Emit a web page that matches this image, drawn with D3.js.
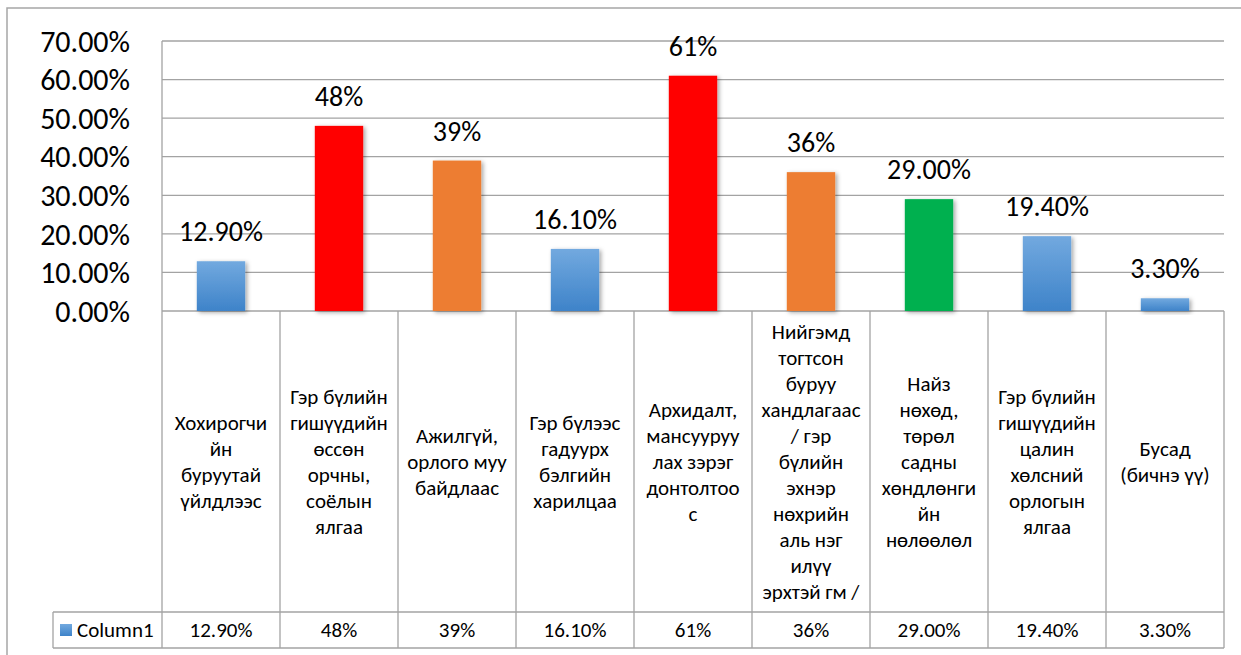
<!DOCTYPE html>
<html>
<head>
<meta charset="utf-8">
<script src="https://cdn.jsdelivr.net/npm/d3@7"></script>
<style>
  html, body { margin: 0; padding: 0; background: #fff; }
  svg { display: block; }
  text { font-family: "Carlito", "Lato", "Open Sans", sans-serif; fill: #000; }
</style>
</head>
<body>
<svg id="chart" width="1241" height="655"></svg>
<script>
// ---- data ----
const categories = [
  "Хохирогчийн буруутай үйлдлээс",
  "Гэр бүлийн гишүүдийн өссөн орчны, соёлын ялгаа",
  "Ажилгүй, орлого муу байдлаас",
  "Гэр бүлээс гадуурх бэлгийн харилцаа",
  "Архидалт, мансууруулах зэрэг донтолтоос",
  "Нийгэмд тогтсон буруу хандлагаас / гэр бүлийн эхнэр нөхрийн аль нэг илүү эрхтэй гм /",
  "Найз нөхөд, төрөл садны хөндлөнгийн нөлөөлөл",
  "Гэр бүлийн гишүүдийн цалин хөлсний орлогын ялгаа",
  "Бусад (бичнэ үү)"
];
const categoryLines = [
  ["Хохирогчи", "йн", "буруутай", "үйлдлээс"],
  ["Гэр бүлийн", "гишүүдийн", "өссөн", "орчны,", "соёлын", "ялгаа"],
  ["Ажилгүй,", "орлого муу", "байдлаас"],
  ["Гэр бүлээс", "гадуурх", "бэлгийн", "харилцаа"],
  ["Архидалт,", "мансууруу", "лах зэрэг", "донтолтоо", "с"],
  ["Нийгэмд", "тогтсон", "буруу", "хандлагаас", "/ гэр", "бүлийн", "эхнэр", "нөхрийн", "аль нэг", "илүү", "эрхтэй гм /"],
  ["Найз", "нөхөд,", "төрөл", "садны", "хөндлөнги", "йн", "нөлөөлөл"],
  ["Гэр бүлийн", "гишүүдийн", "цалин", "хөлсний", "орлогын", "ялгаа"],
  ["Бусад", "(бичнэ үү)"]
];
const values = [12.9, 48, 39, 16.1, 61, 36, 29.0, 19.4, 3.3];
const valueLabels = ["12.90%", "48%", "39%", "16.10%", "61%", "36%", "29.00%", "19.40%", "3.30%"];
const barColors = ["blue", "red", "orange", "blue", "red", "orange", "green", "blue", "blue"];
const yTicks = [0, 10, 20, 30, 40, 50, 60, 70];
const seriesName = "Column1";

// ---- layout ----
const svg = d3.select("#chart");
const W = 1241, H = 655;
const plotLeft = 162, plotRight = 1224, plotTop = 41, plotBottom = 311;
const catBottom = 612, dataBottom = 648, legendLeft = 53;
const gridColor = "#a3a3a3";

const palette = { red: "#ff0000", orange: "#ed7d31", green: "#00b050", blue: "url(#blueGrad)" };

const defs = svg.append("defs");
const grad = defs.append("linearGradient").attr("id", "blueGrad")
  .attr("x1", 0).attr("y1", 0).attr("x2", 0).attr("y2", 1);
grad.append("stop").attr("offset", "0%").attr("stop-color", "#72a9df");
grad.append("stop").attr("offset", "100%").attr("stop-color", "#3e83c9");
const f = defs.append("filter").attr("id", "shadow")
  .attr("x", "-30%").attr("y", "-30%").attr("width", "160%").attr("height", "160%");
f.append("feDropShadow").attr("dx", 2).attr("dy", 1.5).attr("stdDeviation", 2)
  .attr("flood-color", "#000").attr("flood-opacity", 0.35);

// outer frame
svg.append("rect").attr("x", 7).attr("y", 8).attr("width", W + 20).attr("height", H + 20)
  .attr("fill", "none").attr("stroke", "#a6a6a6").attr("stroke-width", 1.5);

const x = d3.scaleBand().domain(d3.range(categories.length)).range([plotLeft, plotRight]).padding(0);
const y = d3.scaleLinear().domain([0, 70]).range([plotBottom, plotTop]);
const barW = x.bandwidth() * 0.41;

// gridlines
svg.append("g").selectAll("line").data(yTicks).join("line")
  .attr("x1", plotLeft).attr("x2", plotRight)
  .attr("y1", d => y(d)).attr("y2", d => y(d))
  .attr("stroke", gridColor).attr("stroke-width", 1.3);

// y axis labels
const yAxis = d3.axisLeft(y).tickValues(yTicks).tickSize(0).tickPadding(0)
  .tickFormat(d => d3.format(".2f")(d) + "%");
const ya = svg.append("g").attr("transform", `translate(${plotLeft - 32},0)`).call(yAxis);
ya.select(".domain").remove();
ya.selectAll("text").attr("font-size", 30).attr("dy", "0.34em")
  .style("font-family", '"Carlito", "Lato", "Open Sans", sans-serif').attr("fill", "#000");

// table lines
const tbl = svg.append("g").attr("stroke", gridColor).attr("stroke-width", 1.3);
const bounds = d3.range(categories.length + 1).map(i => i < categories.length ? x(i) : plotRight);
tbl.selectAll("line.v").data(bounds).join("line").attr("class", "v")
  .attr("x1", d => d).attr("x2", d => d)
  .attr("y1", (d, i) => i === 0 ? plotTop : plotBottom).attr("y2", dataBottom);
tbl.append("line").attr("x1", legendLeft).attr("x2", plotRight).attr("y1", catBottom).attr("y2", catBottom);
tbl.append("line").attr("x1", legendLeft).attr("x2", plotRight).attr("y1", dataBottom).attr("y2", dataBottom);
tbl.append("line").attr("x1", legendLeft).attr("x2", legendLeft).attr("y1", catBottom).attr("y2", dataBottom);

// bars
svg.append("g").selectAll("rect").data(values).join("rect")
  .attr("x", (d, i) => x(i) + (x.bandwidth() - barW) / 2)
  .attr("y", d => y(d))
  .attr("width", barW)
  .attr("height", d => y(0) - y(d))
  .attr("fill", (d, i) => palette[barColors[i]])
  .attr("filter", "url(#shadow)");

// value labels
svg.append("g").selectAll("text").data(values).join("text")
  .attr("x", (d, i) => x(i) + x.bandwidth() / 2)
  .attr("y", d => y(d) - 20)
  .attr("text-anchor", "middle").attr("font-size", 28)
  .text((d, i) => valueLabels[i]);

// category labels
const catMid = (plotBottom + catBottom) / 2;
const lh = 26;
const cg = svg.append("g").selectAll("text").data(categoryLines).join("text")
  .attr("text-anchor", "middle").attr("font-size", 21);
cg.each(function(lines, i) {
  const t = d3.select(this);
  lines.forEach((ln, j) => {
    t.append("tspan")
      .attr("x", x(i) + x.bandwidth() / 2)
      .attr("y", catMid + (j - (lines.length - 1) / 2) * lh)
      .attr("dy", "0.35em")
      .text(ln);
  });
});

// data row
const dataMid = (catBottom + dataBottom) / 2;
svg.append("g").selectAll("text").data(valueLabels).join("text")
  .attr("x", (d, i) => x(i) + x.bandwidth() / 2)
  .attr("y", dataMid).attr("dy", "0.35em")
  .attr("text-anchor", "middle").attr("font-size", 21)
  .text(d => d);

// legend cell
svg.append("rect").attr("x", 60).attr("y", dataMid - 6).attr("width", 12).attr("height", 12)
  .attr("fill", "url(#blueGrad)");
svg.append("text").attr("x", 77).attr("y", dataMid).attr("dy", "0.35em")
  .attr("font-size", 21).text(seriesName);
</script>
</body>
</html>
